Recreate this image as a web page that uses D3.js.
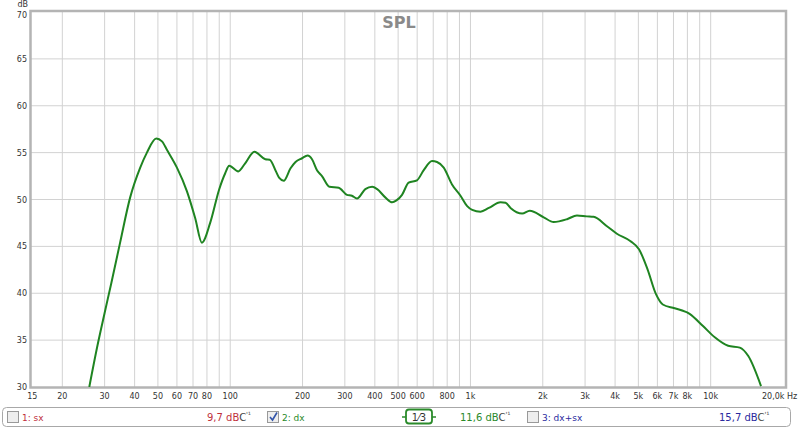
<!DOCTYPE html>
<html><head><meta charset="utf-8">
<script src="https://cdn.jsdelivr.net/npm/d3@7"></script>
<style>
body{margin:0;background:#fff;}
svg{display:block;font-family:"DejaVu Sans",Verdana,sans-serif;}
</style></head>
<body><svg id="c" width="800" height="428"></svg>
<script>
const freqs = [25.9,28,30,32,34.8,38.3,42.2,45,49.2,52,54.5,60,66,71.5,76.2,82.5,90,95.3,99,108,115,126,140,146,155,160,167,178,187,199,210,219,230,241,259,283,306,321,337,365,390,409,443,472,492,519,553,599,638,692,726,774,838,909,969,1017,1101,1193,1334,1400,1468,1642,1766,2018,2220,2524,2776,3050,3253,3700,4070,4640,5030,5460,5920,6320,7080,8170,9290,10400,11820,13220,14340,16200];
const spl = [30.0,34.4,37.9,41.1,45.4,50.2,53.4,55.0,56.5,56.2,55.3,53.4,50.9,48.0,45.4,47.5,51.1,52.8,53.6,53.0,53.8,55.1,54.3,54.25,53.0,52.3,52.0,53.3,54.0,54.4,54.7,54.3,53.1,52.5,51.35,51.25,50.5,50.4,50.1,51.1,51.35,51.1,50.2,49.7,49.9,50.5,51.8,52.05,53.1,54.1,54.0,53.4,51.6,50.4,49.3,48.9,48.7,49.1,49.7,49.65,49.1,48.5,48.8,48.1,47.6,47.9,48.3,48.2,48.15,47.15,46.35,45.55,44.7,42.55,39.9,38.8,38.4,37.8,36.5,35.3,34.4,34.2,33.3,30.1];
const xGrid = [20,30,40,50,60,70,80,90,100,200,300,400,500,600,700,800,900,1000,2000,3000,4000,5000,6000,7000,8000,9000,10000];
const xTickVals = [15,20,30,40,50,60,70,80,100,200,300,400,500,600,800,1000,2000,3000,4000,5000,6000,7000,8000,10000,20000];
const xTickLabels = ["15","20","30","40","50","60","70","80","100","200","300","400","500","600","800","1k","2k","3k","4k","5k","6k","7k","8k","10k","20,0k Hz"];
const yTicks = [30,35,40,45,50,55,60,65,70];
const legendNames = ["1: sx","2: dx","3: dx+sx"];
const legendValues = ["9,7 dB","11,6 dB","15,7 dB"];
const legendChecked = [false,true,false];

const svg = d3.select("#c");
const L=31, R=785, T=12, B=387;
const x = d3.scaleLog().domain([15,20000]).range([32.3,783]);
const y = d3.scaleLinear().domain([30,70]).range([B,T]);

// grid
svg.append("g").selectAll("line").data(xGrid).join("line")
  .attr("x1",d=>x(d)).attr("x2",d=>x(d)).attr("y1",T).attr("y2",B)
  .attr("stroke","#d2d2d2").attr("stroke-width",1);
svg.append("g").selectAll("line").data(yTicks.slice(1,-1)).join("line")
  .attr("x1",L).attr("x2",R).attr("y1",d=>y(d)).attr("y2",d=>y(d))
  .attr("stroke","#d2d2d2").attr("stroke-width",1);

// frame
svg.append("rect").attr("x",L-0.5).attr("y",T-1).attr("width",R-L+1.5).attr("height",B-T+1.5)
  .attr("fill","none").attr("stroke","#b4b4b4").attr("stroke-width",2.5);

// title
svg.append("text").attr("x",399).attr("y",28).attr("text-anchor","middle")
  .attr("font-size",16).attr("font-weight","bold").attr("fill","#8a8a8a").text("SPL");

// y labels
svg.append("text").attr("x",28).attr("y",7).attr("text-anchor","end").attr("font-size",8).attr("fill","#333").text("dB");
svg.append("g").selectAll("text").data(yTicks).join("text")
  .attr("x",27).attr("y",d=>d===70 ? y(d)+6 : y(d)+3).attr("text-anchor","end").attr("font-size",8).attr("fill","#333").text(d=>d);

// x labels
svg.append("g").selectAll("text").data(xTickVals).join("text")
  .attr("x",(d,i)=>i===xTickVals.length-1 ? 762 : x(d)).attr("y",399)
  .attr("text-anchor",(d,i)=>i===xTickVals.length-1 ? "start" : "middle")
  .attr("font-size",8).attr("fill","#333")
  .text((d,i)=>xTickLabels[i]);

// curve
svg.append("clipPath").attr("id","clip").append("rect").attr("x",L).attr("y",T).attr("width",R-L).attr("height",B-T);
const pts = freqs.map((f,i)=>[f,spl[i]]);
const line = d3.line().x(d=>x(d[0])).y(d=>y(d[1])).curve(d3.curveMonotoneX);
svg.append("path").attr("d",line(pts)).attr("clip-path","url(#clip)")
  .attr("fill","none").attr("stroke","#1f8421").attr("stroke-width",2).attr("stroke-linejoin","round");

// legend
const lg = svg.append("g");
lg.append("rect").attr("x",2.5).attr("y",407.5).attr("width",788).attr("height",19).attr("rx",4)
  .attr("fill","#fff").attr("stroke","#a8a8a8");
const colors = ["#c0303c","#2a8a2a","#2a2a9e"];
const cbX = [7,267,527], nameX=[22,282,542], valX=[207,460,719];
legendNames.forEach((n,i)=>{
  lg.append("rect").attr("x",cbX[i]+0.5).attr("y",411.5).attr("width",11).attr("height",11)
    .attr("fill","#eee").attr("stroke","#999");
  if(legendChecked[i]){
    lg.append("path").attr("d",`M${cbX[i]+3},${417} L${cbX[i]+5.5},${420} L${cbX[i]+10},${412.5}`)
      .attr("fill","none").attr("stroke","#3355aa").attr("stroke-width",1.6);
  }
  lg.append("text").attr("x",nameX[i]).attr("y",421).attr("font-size",9).attr("fill",colors[i]).text(n);
  const t = lg.append("text").attr("x",valX[i]).attr("y",421).attr("font-size",10);
  t.append("tspan").attr("fill",colors[i]).text(legendValues[i]);
  t.append("tspan").attr("fill","#444").text("C");
  t.append("tspan").attr("fill","#444").attr("font-size",7).attr("dy",-4).text("'¹");
});
// 1/3 smoothing box
lg.append("line").attr("x1",402).attr("x2",436).attr("y1",417).attr("y2",417).attr("stroke","#2a8a2a").attr("stroke-width",1.5);
lg.append("rect").attr("x",406).attr("y",409.5).attr("width",26).attr("height",14).attr("rx",3)
  .attr("fill","#fff").attr("stroke","#2a8a2a").attr("stroke-width",1.8);
lg.append("text").attr("x",419).attr("y",421).attr("text-anchor","middle").attr("font-size",10).attr("fill","#333")
  .text("1⁄3");
</script></body></html>
